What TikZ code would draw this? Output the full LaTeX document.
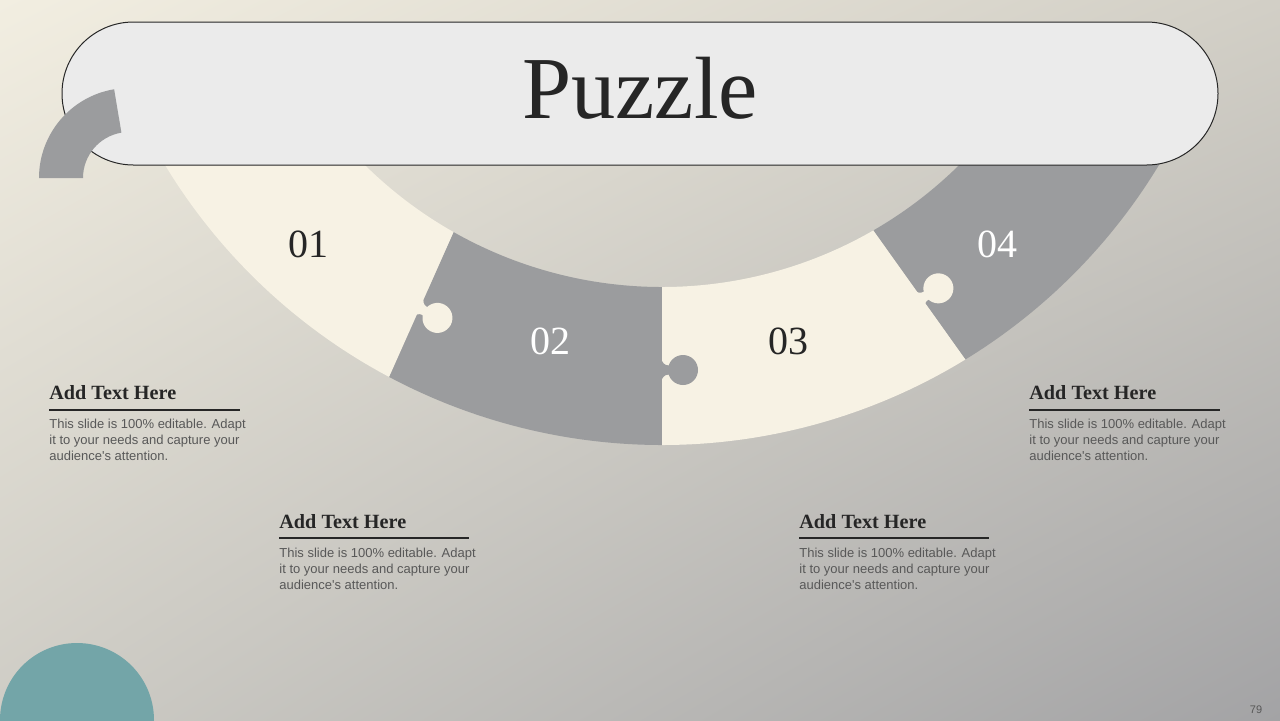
\documentclass[tikz,border=0pt]{standalone}
\usepackage{fontspec}
\setmainfont{Liberation Serif}
\newfontfamily\sansf{Liberation Sans}
\usetikzlibrary{calc,shadings}
\definecolor{pcream}{RGB}{247,242,228}
\definecolor{pgrey}{RGB}{155,156,158}
\definecolor{bannerfill}{RGB}{235,235,235}
\definecolor{tealc}{RGB}{115,165,168}
\definecolor{bodytext}{RGB}{88,88,88}
\definecolor{headtext}{RGB}{38,38,38}
\definecolor{bgUL}{RGB}{242,238,225}
\definecolor{bgUR}{RGB}{210,207,198}
\definecolor{bgLL}{RGB}{206,204,197}
\definecolor{bgLR}{RGB}{163,163,165}
\newcommand\puzzleknob[1]{%
  \fill[#1] (506,21) circle[radius=15];
  \fill[#1] (497,-2) -- (515,-2) -- (515,0) .. controls (511,2) and (510,5) .. (511,9)
      -- (501,9) .. controls (502,5) and (501,2) .. (497,0) -- cycle;
}
\tikzset{
  numdark/.style={font=\fontsize{20}{24}\selectfont, text=headtext, inner sep=0pt},
  numlight/.style={font=\fontsize{20}{24}\selectfont, text=white, inner sep=0pt},
  headstyle/.style={font=\bfseries\fontsize{10.1}{12}\selectfont, text=headtext, anchor=base west, inner sep=0pt},
  bodystyle/.style={font=\sansf\fontsize{6.5}{8}\selectfont, text=bodytext, anchor=north west, inner sep=0pt, align=left},
  rule/.style={draw=headtext, line width=0.6pt},
}
\begin{document}
\begin{tikzpicture}[x=0.5pt,y=0.5pt]
\useasboundingbox (0,0) rectangle (1280,-720);
\shade[upper left=bgUL, upper right=bgUR, lower left=bgLL, lower right=bgLR] (0,0) rectangle (1280,-720);

\coordinate (C) at (662,136);

% ring pieces
\fill[pcream] ($(C)+(207:581)$) arc[start angle=207,end angle=242,radius=581]
  -- ($(C)+(240.5:423)$) arc[start angle=240.5,end angle=207,radius=423] -- cycle;
\fill[pgrey] ($(C)+(242:581)$) arc[start angle=242,end angle=270,radius=581]
  -- ($(C)+(270:423)$) arc[start angle=270,end angle=240.5,radius=423] -- cycle;
\fill[pcream] ($(C)+(270:581)$) arc[start angle=270,end angle=301.5,radius=581]
  -- ($(C)+(300:423)$) arc[start angle=300,end angle=270,radius=423] -- cycle;
\fill[pgrey] ($(C)+(301.5:581)$) arc[start angle=301.5,end angle=333,radius=581]
  -- ($(C)+(333:423)$) arc[start angle=333,end angle=300,radius=423] -- cycle;

% knobs
\begin{scope}[shift={(C)}, rotate=241.3]
  \puzzleknob{pcream}
\end{scope}
\begin{scope}[shift={(C)}, rotate=270]
  \puzzleknob{pgrey}
\end{scope}
\begin{scope}[shift={(C)}, rotate=300.7]
  \puzzleknob{pcream}
\end{scope}

% banner
\draw[fill=bannerfill, draw=headtext, line width=0.5pt, rounded corners=35.75pt] (62,-22) rectangle (1218,-165);

% left decorative arc
\coordinate (L) at (129,-178);
\fill[pgrey] ($(L)+(180:90)$) arc[start angle=180,end angle=99.5,radius=90]
  -- ($(L)+(99.5:46)$) arc[start angle=99.5,end angle=180,radius=46] -- cycle;

\node[font=\fontsize{44.2}{50}\selectfont, text=headtext, anchor=base, inner sep=0pt] (title) at (640,-118) {Puzzle};

% numbers
\node[numdark]  (n1) at (308,-244) {01};
\node[numlight] (n2) at (550,-341) {02};
\node[numdark]  (n3) at (788,-341) {03};
\node[numlight] (n4) at (997,-244) {04};

% text blocks
\node[headstyle] (h1) at (49,-399) {Add Text Here};
\draw[rule] (49,-410) -- (240,-410);
\node[bodystyle] (b1) at (49,-418.5) {This slide is 100\% editable. Adapt\\it to your needs and capture your\\audience's attention.};

\node[headstyle] (h4) at (1029,-399) {Add Text Here};
\draw[rule] (1029,-410) -- (1220,-410);
\node[bodystyle] (b4) at (1029,-418.5) {This slide is 100\% editable. Adapt\\it to your needs and capture your\\audience's attention.};

\node[headstyle] (h2) at (279,-528) {Add Text Here};
\draw[rule] (279,-538) -- (469,-538);
\node[bodystyle] (b2) at (279,-547.5) {This slide is 100\% editable. Adapt\\it to your needs and capture your\\audience's attention.};

\node[headstyle] (h3) at (799,-528) {Add Text Here};
\draw[rule] (799,-538) -- (989,-538);
\node[bodystyle] (b3) at (799,-547.5) {This slide is 100\% editable. Adapt\\it to your needs and capture your\\audience's attention.};

% teal circle
\fill[tealc] (77,-720) circle[radius=77];

\node[font=\sansf\fontsize{5.5}{6}\selectfont, text=bodytext, inner sep=0pt] (page) at (1256,-710) {79};
\end{tikzpicture}
\end{document}
